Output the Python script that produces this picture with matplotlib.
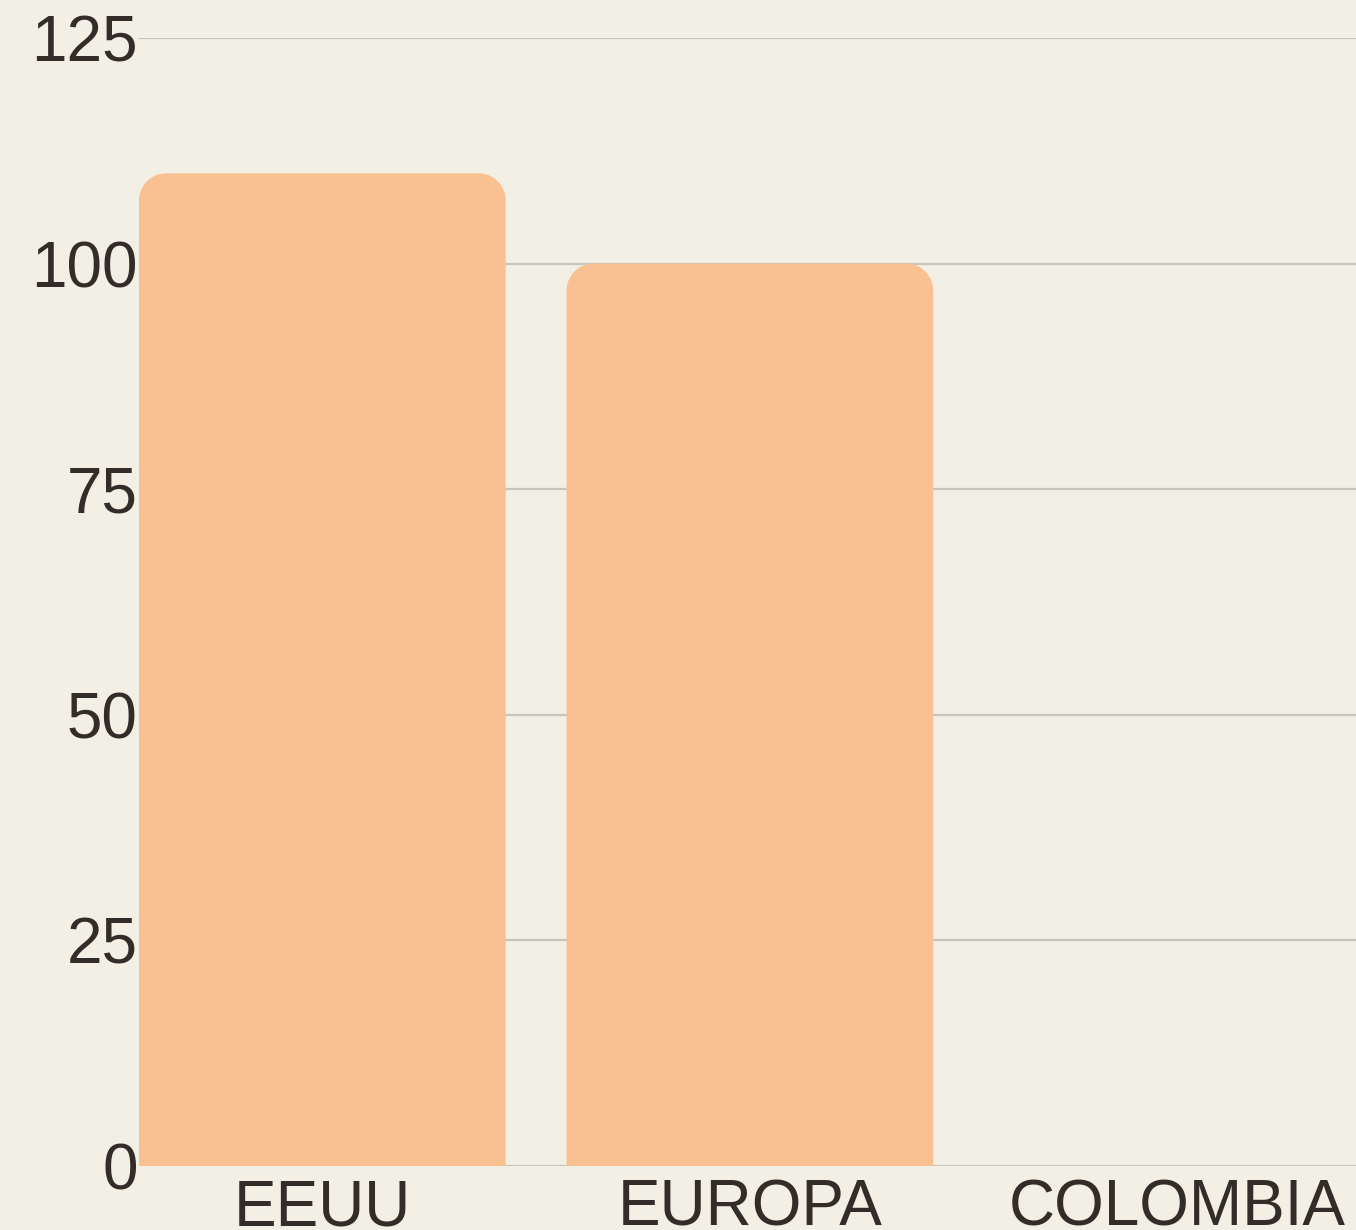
import matplotlib
matplotlib.use("Agg")
import matplotlib.pyplot as plt
from matplotlib.path import Path
from matplotlib.patches import PathPatch

# data
categories = ["EEUU", "EUROPA", "COLOMBIA"]
values = [110, 100, 0]
yticks = [0, 25, 50, 75, 100, 125]

bg = "#F2EFE4"
bar_color = "#F9C091"
text_color = "#332C28"
grid_color = "#C8C5BC"

plt.rcParams["font.family"] = ["Liberation Sans", "DejaVu Sans"]

fig = plt.figure(figsize=(13.56, 12.3), dpi=100, facecolor=bg)
ax = fig.add_axes([139 / 1356, (1230 - 1166) / 1230, 1 - 139 / 1356, (1166 - 38) / 1230])
ax.set_facecolor(bg)

width = 367 / 428
bars = ax.bar(range(len(categories)), values, width=width, color=bar_color, zorder=2)

ax.set_xlim(-width / 2, (1356 - 322.5) / 427.5)
ax.set_ylim(0, 125)

# swap plain rectangles for ones with rounded top corners
rx, ry = 0.063, 3.0
k = 0.5523
for b in bars:
    h = b.get_height()
    if h <= 0:
        b.set_visible(False)
        continue
    x0, w = b.get_x(), b.get_width()
    x1 = x0 + w
    verts = [
        (x0, 0), (x0, h - ry),
        (x0, h - ry + k * ry), (x0 + rx - k * rx, h), (x0 + rx, h),
        (x1 - rx, h),
        (x1 - rx + k * rx, h), (x1, h - ry + k * ry), (x1, h - ry),
        (x1, 0), (x0, 0),
    ]
    codes = [Path.MOVETO, Path.LINETO,
             Path.CURVE4, Path.CURVE4, Path.CURVE4,
             Path.LINETO,
             Path.CURVE4, Path.CURVE4, Path.CURVE4,
             Path.LINETO, Path.CLOSEPOLY]
    ax.add_patch(PathPatch(Path(verts, codes), facecolor=bar_color, edgecolor="none", zorder=2))
    b.set_visible(False)

ax.set_yticks(yticks)
ax.set_xticks(range(len(categories)))
ax.set_xticklabels(categories)
ax.yaxis.grid(True, color=grid_color, linewidth=1.6, zorder=0)
ax.set_axisbelow(True)
ax.tick_params(axis="both", length=0, labelsize=46, labelcolor=text_color)
ax.tick_params(axis="y", pad=1)
ax.tick_params(axis="x", pad=9)
for s in ax.spines.values():
    s.set_visible(False)

fig.savefig("out.png", dpi=100, facecolor=bg)
